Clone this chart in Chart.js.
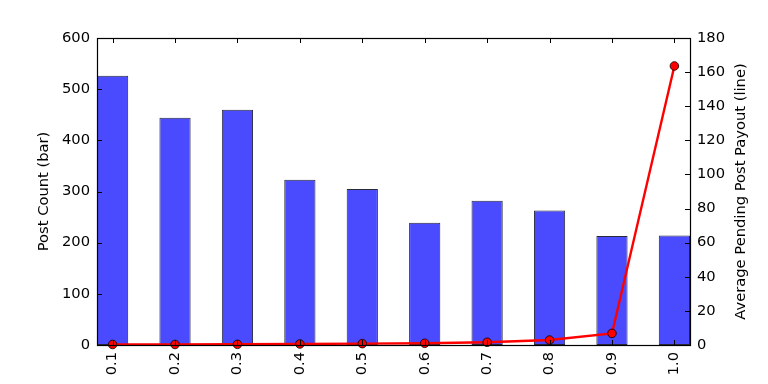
<!DOCTYPE html>
<html>
<head>
<meta charset="utf-8">
<script src="https://cdn.jsdelivr.net/npm/chart.js@4/dist/chart.umd.min.js"></script>
<style>
  html, body { margin: 0; padding: 0; background: #fff; overflow: hidden; }
  #wrap { width: 768px; height: 384px; }
</style>
</head>
<body>
<div id="wrap"><canvas id="c" width="768" height="384"></canvas></div>
<script>
const categories = ['0.1', '0.2', '0.3', '0.4', '0.5', '0.6', '0.7', '0.8', '0.9', '1.0'];
const postCount = [526, 444, 460, 323, 305, 239, 282, 263, 213, 214];
const avgPayout = [0.3, 0.3, 0.4, 0.6, 0.8, 1.0, 1.6, 2.9, 6.8, 163.6];
const leftTicks = [0, 100, 200, 300, 400, 500, 600];
const rightTicks = [0, 20, 40, 60, 80, 100, 120, 140, 160, 180];
const leftTitle = 'Post Count (bar)';
const rightTitle = 'Average Pending Post Payout (line)';

const FONT = { family: 'DejaVu Sans', size: 14.7 };

const inwardTicks = {
  id: 'inwardTicks',
  afterDatasetsDraw(chart) {
    const ctx = chart.ctx;
    const a = chart.chartArea;
    const x = chart.scales.x, yl = chart.scales.y, yr = chart.scales.y1;
    ctx.save();
    ctx.strokeStyle = '#000';
    ctx.lineWidth = 1;
    ctx.beginPath();
    categories.forEach((c, i) => {
      const px = Math.round(x.getPixelForValue(i)) + 0.5;
      ctx.moveTo(px, a.bottom); ctx.lineTo(px, a.bottom - 5);
      ctx.moveTo(px, a.top); ctx.lineTo(px, a.top + 5);
    });
    leftTicks.forEach(v => {
      const py = Math.round(yl.getPixelForValue(v)) + 0.5;
      ctx.moveTo(a.left, py); ctx.lineTo(a.left + 5, py);
    });
    rightTicks.forEach(v => {
      const py = Math.round(yr.getPixelForValue(v)) + 0.5;
      ctx.moveTo(a.right, py); ctx.lineTo(a.right - 5, py);
    });
    ctx.stroke();
    ctx.restore();
  }
};

const frameAndTitles = {
  id: 'frameAndTitles',
  afterDraw(chart) {
    const ctx = chart.ctx;
    const a = chart.chartArea;
    ctx.save();
    ctx.strokeStyle = '#000';
    ctx.lineWidth = 1.2;
    ctx.strokeRect(Math.round(a.left) + 0.5, Math.round(a.top) + 0.5,
      Math.round(a.right - a.left), Math.round(a.bottom - a.top));
    const cy = (a.top + a.bottom) / 2;
    ctx.fillStyle = '#000';
    ctx.font = FONT.size + 'px "' + FONT.family + '"';
    ctx.textAlign = 'center';
    ctx.textBaseline = 'middle';
    ctx.translate(44, cy);
    ctx.rotate(-Math.PI / 2);
    ctx.fillText(leftTitle, 0, 0);
    ctx.setTransform(1, 0, 0, 1, 0, 0);
    ctx.translate(741, cy);
    ctx.rotate(-Math.PI / 2);
    ctx.fillText(rightTitle, 0, 0);
    ctx.restore();
  }
};

new Chart(document.getElementById('c'), {
  data: {
    datasets: [
      {
        type: 'line',
        label: 'Average Pending Post Payout',
        data: avgPayout.map((v, i) => ({ x: i, y: v })),
        yAxisID: 'y1',
        borderColor: '#ff0000',
        borderWidth: 2.4,
        pointRadius: 4.3,
        pointBackgroundColor: '#ff0000',
        pointBorderColor: '#000',
        pointBorderWidth: 0.8,
        tension: 0,
        order: 0,
        clip: false
      },
      {
        type: 'bar',
        label: 'Post Count',
        data: postCount.map((v, i) => ({ x: i, y: v })),
        yAxisID: 'y',
        backgroundColor: 'rgb(74,74,255)',
        borderColor: '#2a2a3a',
        borderWidth: 1,
        borderSkipped: false,
        barPercentage: 0.5,
        categoryPercentage: 1.0,
        order: 1
      }
    ]
  },
  options: {
    responsive: false,
    animation: false,
    layout: { padding: { left: 0, right: 0, top: 38, bottom: 0 } },
    plugins: { legend: { display: false }, tooltip: { enabled: false } },
    scales: {
      x: {
        type: 'linear',
        offset: false,
        min: -0.25,
        max: 9.25,
        afterBuildTicks: s => { s.ticks = categories.map((c, i) => ({ value: i })); },
        afterFit: s => { s.height = 39; },
        grid: { display: false, drawTicks: false, offset: false },
        border: { display: false },
        ticks: {
          callback: (v) => categories[v],
          minRotation: 90,
          maxRotation: 90,
          autoSkip: false,
          padding: 7,
          color: '#000',
          font: FONT
        }
      },
      y: {
        position: 'left',
        min: 0,
        max: 600,
        afterBuildTicks: s => { s.ticks = leftTicks.map(v => ({ value: v })); },
        afterFit: s => { s.width = 97; },
        grid: { display: false, drawTicks: false },
        border: { display: false },
        ticks: { padding: 7, color: '#000', font: FONT }
      },
      y1: {
        position: 'right',
        min: 0,
        max: 180,
        afterBuildTicks: s => { s.ticks = rightTicks.map(v => ({ value: v })); },
        afterFit: s => { s.width = 78; },
        grid: { display: false, drawTicks: false },
        border: { display: false },
        ticks: { padding: 7, color: '#000', font: FONT }
      }
    }
  },
  plugins: [inwardTicks, frameAndTitles]
});
</script>
</body>
</html>
